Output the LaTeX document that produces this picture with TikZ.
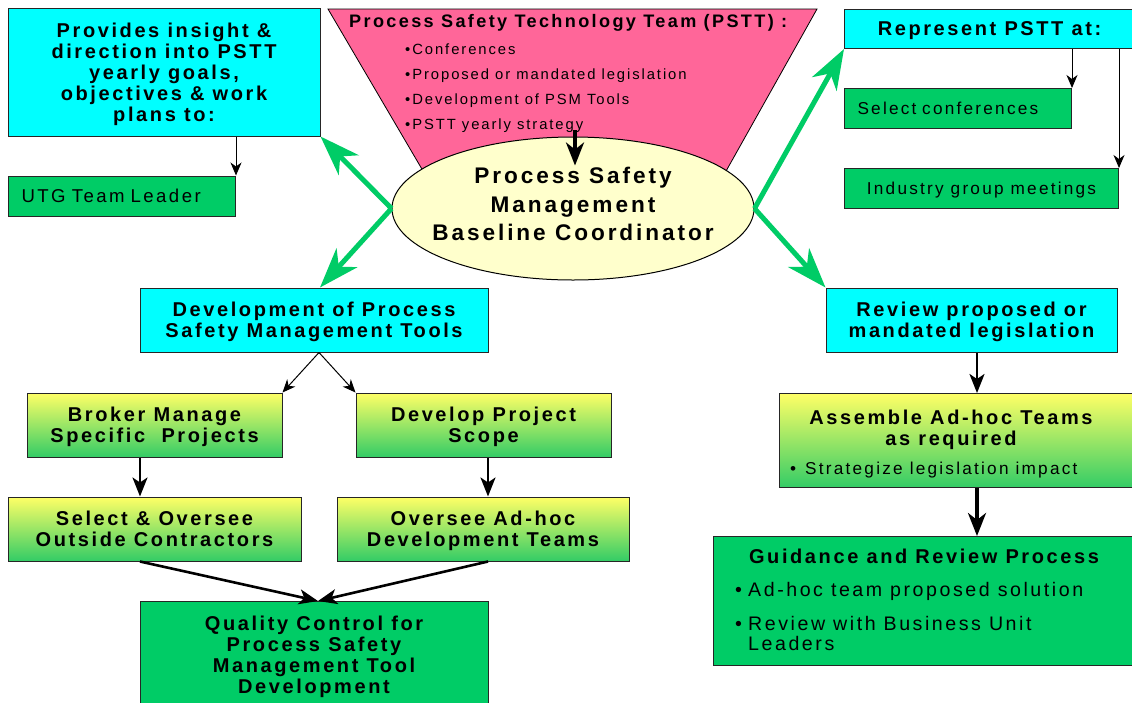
\documentclass[tikz,border=0pt]{standalone}
\usepackage{fontspec}
\setmainfont{Liberation Sans}[LetterSpace=13]
\usetikzlibrary{arrows.meta,shapes.geometric,calc}
\definecolor{cyanc}{HTML}{00FFFF}
\definecolor{greenc}{HTML}{00CC66}
\definecolor{pinkc}{HTML}{FF6699}
\definecolor{yelc}{HTML}{FFFFCC}
\definecolor{gtop}{HTML}{FFFF66}
\definecolor{gbot}{HTML}{33CC66}
\definecolor{arrg}{HTML}{00CC66}
\newcommand\bfnt{\fontsize{20}{21}\selectfont\bfseries}
\newcommand\rfnt{\fontsize{17.2}{20}\selectfont}
\begin{document}
\begin{tikzpicture}[x=1pt,y=-1pt,
 box/.style={draw=black!85, line width=1pt, inner sep=0pt, align=center, text depth=0pt},
 cyb/.style={box, fill=cyanc, font=\bfnt},
 grb/.style={box, fill=greenc},
 grd/.style={box, top color=gtop, bottom color=gbot, font=\bfnt},
 txt/.style={inner sep=0pt, text depth=0pt},
 thinarr/.style={draw=black, line width=1pt, -{Stealth[length=13pt,width=11pt,inset=4pt]}},
 medarr/.style={draw=black, line width=2.6pt, -{Stealth[length=19pt,width=15pt,inset=5pt]}},
 bigarr/.style={draw=black, line width=3.6pt, -{Stealth[length=23pt,width=18pt,inset=7pt]}},
 grarr/.style={draw=arrg, line width=5pt, -{Stealth[length=40pt,width=28pt,inset=12pt]}}
]
\useasboundingbox (0,0) rectangle (1132,702);
\fill[white] (0,0) rectangle (1132,702);

% funnel
\draw[fill=pinkc, line width=0.8pt] (328,9) -- (817,9) -- (707,205) -- (443,205) -- cycle;
\node[txt, font=\fontsize{18.1}{20}\selectfont\bfseries, anchor=base west] (pstt) at (349,27) {Process Safety Technology Team (PSTT) :};
\node[txt, font=\fontsize{14.8}{17}\selectfont, anchor=base west] (b1) at (405,54) {•Conferences};
\node[txt, font=\fontsize{14.8}{17}\selectfont, anchor=base west] (b2) at (405,79) {•Proposed or mandated legislation};
\node[txt, font=\fontsize{14.8}{17}\selectfont, anchor=base west] (b3) at (405,104) {•Development of PSM Tools};
\node[txt, font=\fontsize{14.8}{17}\selectfont, anchor=base west] (b4) at (405,129) {•PSTT yearly strategy};

% centre ellipse
\node[draw=black, line width=1pt, ellipse, fill=yelc, minimum width=362pt, minimum height=143pt, inner sep=0pt] (psm) at (573,208.5) {};
\node[txt, font=\fontsize{22.6}{28.5}\selectfont\bfseries, align=center] (psmt) at (573,204) {Process Safety\\Management\\Baseline Coordinator};

% top left
\node[cyb, minimum width=312pt, minimum height=128pt] (tl) at (164,72) {Provides insight \&\\direction into PSTT\\yearly goals,\\objectives \& work\\plans to:};
\node[grb, font=\fontsize{18.6}{20}\selectfont, anchor=west, minimum height=40pt, text width=201pt, inner xsep=13pt, align=left] (utg) at (8,196) {UTG Team Leader};

% top right
\node[cyb, anchor=north west, minimum width=290pt, minimum height=39pt] (rt) at (844,9) {Represent PSTT at:};
\node[grb, font=\rfnt, anchor=north west, minimum height=40pt, text width=201pt, inner xsep=13pt, align=left] (sc) at (844,88) {Select conferences};
\node[grb, font=\rfnt, anchor=north west, minimum width=274pt, minimum height=40pt] (igm) at (844,168) {Industry group meetings};

% development tree
\node[cyb, minimum width=348pt, minimum height=64pt] (dev) at (314,320) {Development of Process\\Safety Management Tools};
\node[grd, minimum width=255pt, minimum height=64pt] (broker) at (154.5,425) {Broker Manage\\Specific\ \ Projects};
\node[grd, minimum width=255pt, minimum height=64pt] (scope) at (483.5,425) {Develop Project\\Scope};
\node[grd, minimum width=293pt, minimum height=64pt] (sel) at (154.5,529) {Select \& Oversee\\Outside Contractors};
\node[grd, minimum width=292pt, minimum height=64pt] (ovs) at (483,529) {Oversee Ad-hoc\\Development Teams};
\node[grb, font=\bfnt, anchor=north, minimum width=348pt, minimum height=106pt] (qc) at (314,601) {Quality Control for\\Process Safety\\Management Tool\\Development};

% legislation column
\node[cyb, minimum width=291pt, minimum height=64pt] (rev) at (971.5,320) {Review proposed or\\mandated legislation};
\node[grd, anchor=north west, minimum width=355pt, minimum height=94pt] (ass) at (779,393) {};
\node[txt, font=\bfnt, align=center, anchor=north] (asst) at (951,409.5) {Assemble Ad-hoc Teams\\as required};
\node[txt, font=\rfnt, anchor=base west] (assb) at (790,474) {\makebox[15pt][l]{•}Strategize legislation impact};
\node[grb, anchor=north west, minimum width=421pt, minimum height=129pt] (gd) at (713,536) {};
\node[txt, font=\bfnt, anchor=base] (gdt) at (924,563) {Guidance and Review Process};
\node[txt, font=\fontsize{19.6}{20}\selectfont, anchor=base west] (gd1) at (735,596) {\makebox[13pt][l]{•}Ad-hoc team proposed solution};
\node[txt, font=\fontsize{19.6}{20}\selectfont, anchor=north west, align=left] (gd2) at (735,615.7) {\makebox[13pt][l]{•}Review with Business Unit\\\hspace*{13pt}Leaders};

% connectors
\coordinate (pa) at (575,130);
\draw[bigarr] (pa) -- ($(psm.north)+(2,29)$);
\draw[thinarr] (utg.north east |- tl.south) -- (utg.north east);
\draw[thinarr] (sc.north east |- rt.south) -- (sc.north east);
\draw[thinarr] (igm.north east |- rt.south) -- (igm.north east);
\draw[thinarr] ($(dev.south)+(5,0)$) -- (broker.north east);
\draw[thinarr] ($(dev.south)+(5,0)$) -- (scope.north west);
\draw[medarr] ($(broker.south)+(-14.5,0)$) -- ($(sel.north)+(-14.5,0)$);
\draw[medarr] ($(scope.south)+(4.5,0)$) -- ($(ovs.north)+(5,0)$);
\draw[medarr] ($(sel.south)+(-14.5,0)$) -- ($(qc.north)+(4,0)$);
\draw[medarr] ($(ovs.south)+(5,0)$) -- ($(qc.north)+(4,0)$);
\draw[medarr] ($(rev.south)+(5.5,0)$) -- ($(ass.north west)+(198,0)$);
\draw[bigarr] ($(ass.south west)+(198,0)$) -- ($(gd.north west)+(264,0)$);

\draw[grarr] (psm.west) -- (tl.south east);
\draw[grarr] (psm.west) -- ($(dev.north)+(6,0)$);
\draw[grarr] (psm.east) -- (rt.south west);
\draw[grarr] (psm.east) -- (rev.north west);
\end{tikzpicture}
\end{document}
